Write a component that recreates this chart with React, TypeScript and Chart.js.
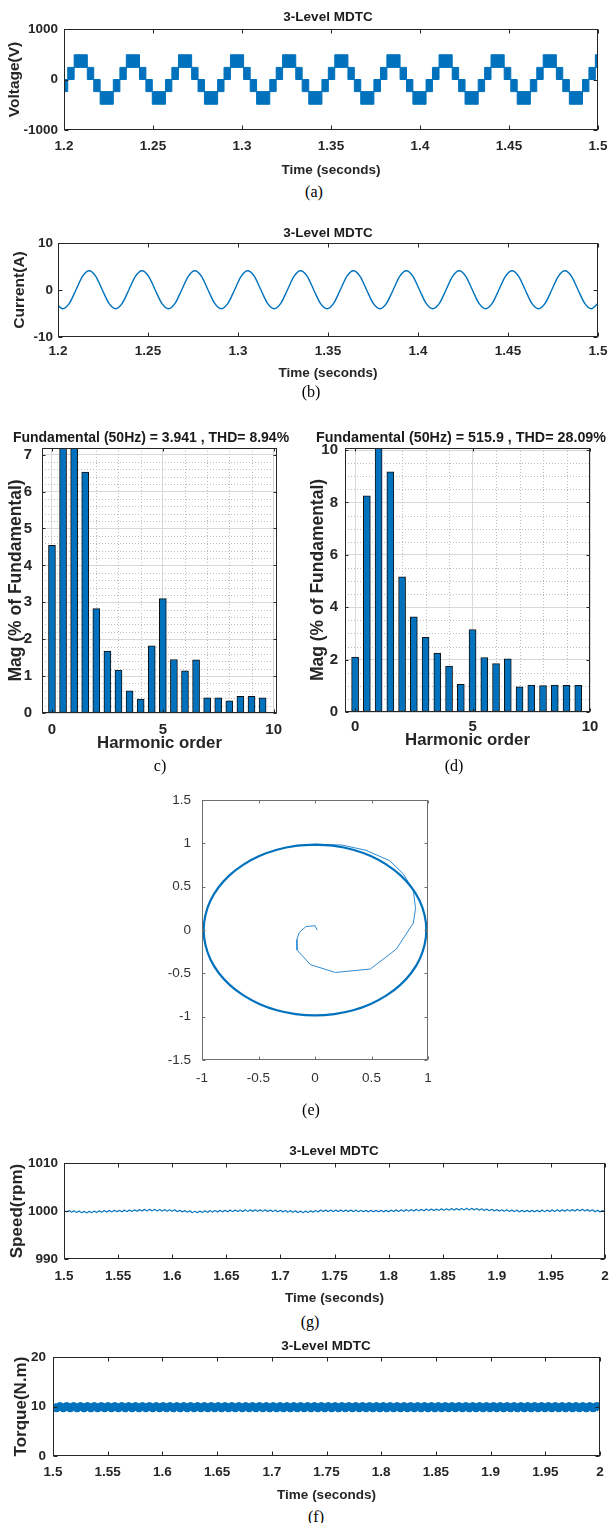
import React, { useEffect, useRef } from 'react';
import { Chart, registerables } from 'chart.js';

Chart.register(...registerables);

const BLUE = '#0072BD';
const SANS = "'Liberation Sans', Arial, Helvetica, sans-serif";
const SERIF = "'Liberation Serif', 'Times New Roman', serif";
const INK = '#262626';

// ---------------- (a) line voltage ----------------
const timeTicksAB = [1.2, 1.25, 1.3, 1.35, 1.4, 1.45, 1.5];
const voltTicks = [-1000, 0, 1000];
const voltTimes = [
  1.1985, 1.2021,
  1.2057, 1.2131, 1.2167, 1.2203, 1.2277, 1.2314,
  1.2350, 1.2424, 1.2460, 1.2496, 1.2570, 1.2606,
  1.2643, 1.2717, 1.2753, 1.2789, 1.2863, 1.2899,
  1.2935, 1.3009, 1.3046, 1.3082, 1.3156, 1.3192,
  1.3228, 1.3302, 1.3338, 1.3375, 1.3449, 1.3485,
  1.3521, 1.3595, 1.3631, 1.3667, 1.3741, 1.3778,
  1.3814, 1.3888, 1.3924, 1.3960, 1.4034, 1.4070,
  1.4107, 1.4181, 1.4217, 1.4253, 1.4327, 1.4363,
  1.4399, 1.4473, 1.4510, 1.4546, 1.4620, 1.4656,
  1.4692, 1.4766, 1.4802, 1.4839, 1.4913, 1.4949,
  1.4985, 1.5,
];
const voltUpper = [
  0, 240,
  490, 240, 0, -240, 0, 240,
  490, 240, 0, -240, 0, 240,
  490, 240, 0, -240, 0, 240,
  490, 240, 0, -240, 0, 240,
  490, 240, 0, -240, 0, 240,
  490, 240, 0, -240, 0, 240,
  490, 240, 0, -240, 0, 240,
  490, 240, 0, -240, 0, 240,
  490, 240, 0, -240, 0, 240,
  490, 240, 0, -240, 0, 240,
  490, 490,
];
const voltLower = [
  -240, 0,
  240, 0, -240, -490, -240, 0,
  240, 0, -240, -490, -240, 0,
  240, 0, -240, -490, -240, 0,
  240, 0, -240, -490, -240, 0,
  240, 0, -240, -490, -240, 0,
  240, 0, -240, -490, -240, 0,
  240, 0, -240, -490, -240, 0,
  240, 0, -240, -490, -240, 0,
  240, 0, -240, -490, -240, 0,
  240, 0, -240, -490, -240, 0,
  240, 240,
];

// ---------------- (b) phase current ----------------
const currentTicks = [-10, 0, 10];
const currentStart = 1.19895;
const currentStep = 0.003671;
const currentVals = [
  -2.85,
  -4.0, -2.85, 0, 2.9, 4.1, 2.9, 0, -2.85,
  -4.0, -2.85, 0, 2.9, 4.1, 2.9, 0, -2.85,
  -4.0, -2.85, 0, 2.9, 4.1, 2.9, 0, -2.85,
  -4.0, -2.85, 0, 2.9, 4.1, 2.9, 0, -2.85,
  -4.0, -2.85, 0, 2.9, 4.1, 2.9, 0, -2.85,
  -4.0, -2.85, 0, 2.9, 4.1, 2.9, 0, -2.85,
  -4.0, -2.85, 0, 2.9, 4.1, 2.9, 0, -2.85,
  -4.0, -2.85, 0, 2.9, 4.1, 2.9, 0, -2.85,
  -4.0, -2.85, 0, 2.9, 4.1, 2.9, 0, -2.85,
  -4.0, -2.85, 0, 2.9, 4.1, 2.9, 0, -2.85,
  -4.0, -2.85,
];

// ---------------- (c),(d) harmonic spectra ----------------
const harmOrder = [0, 0.5, 1, 1.5, 2, 2.5, 3, 3.5, 4, 4.5, 5, 5.5, 6, 6.5, 7, 7.5, 8, 8.5, 9, 9.5];
const harmCurrent = [4.54, 8.6, 9.1, 6.53, 2.83, 1.68, 1.16, 0.6, 0.38, 1.82, 3.1, 1.45, 1.14, 1.44, 0.41, 0.41, 0.33, 0.45, 0.45, 0.41];
const harmVoltage = [2.1, 8.25, 10.3, 9.17, 5.16, 3.63, 2.85, 2.25, 1.75, 1.06, 3.15, 2.08, 1.85, 2.03, 0.96, 1.03, 1.01, 1.03, 1.02, 1.02];
const harmTicksX = [0, 5, 10];
const harmTicksYC = [0, 1, 2, 3, 4, 5, 6, 7];
const harmTicksYD = [0, 2, 4, 6, 8, 10];
const harmMinorX = [1, 2, 3, 4, 6, 7, 8, 9];
const harmMinorYC = [0.2, 0.4, 0.6, 0.8, 1.2, 1.4, 1.6, 1.8, 2.2, 2.4, 2.6, 2.8, 3.2, 3.4, 3.6, 3.8, 4.2, 4.4, 4.6, 4.8, 5.2, 5.4, 5.6, 5.8, 6.2, 6.4, 6.6, 6.8];
const harmMinorYD = [0.5, 1, 1.5, 2.5, 3, 3.5, 4.5, 5, 5.5, 6.5, 7, 7.5, 8.5, 9, 9.5];

// ---------------- (e) stator flux locus ----------------
const fluxTicksX = [-1, -0.5, 0, 0.5, 1];
const fluxTicksY = [-1.5, -1, -0.5, 0, 0.5, 1, 1.5];
const spiralX = [0.02, 0.0, -0.08, -0.14, -0.16, -0.16, -0.04, 0.18, 0.49, 0.72, 0.87, 0.89, 0.87, 0.78, 0.66, 0.45, 0.24, 0.0];
const spiralY = [0.0, 0.05, 0.04, -0.03, -0.11, -0.23, -0.40, -0.49, -0.45, -0.22, 0.08, 0.25, 0.46, 0.65, 0.80, 0.92, 0.98, 0.99];
const circleX = [
  0, -0.171, -0.337, -0.493, -0.633, -0.755, -0.853, -0.926, -0.970,
  -0.985, -0.970, -0.926, -0.853, -0.755, -0.633, -0.493, -0.337, -0.171,
  0, 0.171, 0.337, 0.493, 0.633, 0.755, 0.853, 0.926, 0.970,
  0.985, 0.970, 0.926, 0.853, 0.755, 0.633, 0.493, 0.337, 0.171, 0,
];
const circleY = [
  0.985, 0.970, 0.926, 0.853, 0.755, 0.633, 0.493, 0.337, 0.171,
  0, -0.171, -0.337, -0.493, -0.633, -0.755, -0.853, -0.926, -0.970,
  -0.985, -0.970, -0.926, -0.853, -0.755, -0.633, -0.493, -0.337, -0.171,
  0, 0.171, 0.337, 0.493, 0.633, 0.755, 0.853, 0.926, 0.970, 0.985,
];

// ---------------- (g) rotor speed ----------------
const timeTicksGF = [1.5, 1.55, 1.6, 1.65, 1.7, 1.75, 1.8, 1.85, 1.9, 1.95, 2];
const speedTicks = [990, 1000, 1010];
const speedStart = 1.5;
const speedStep = 0.5 / 215;
const speedVals = [
  1000.15, 999.82, 1000.09, 999.77, 1000.04, 999.71, 999.98, 999.66, 999.93,
  999.60, 999.93, 999.65, 999.98, 999.70, 1000.03, 999.75, 1000.08,
  999.80, 1000.11, 999.82, 1000.13, 999.84, 1000.15, 999.86, 1000.17, 999.89,
  1000.20, 999.92, 1000.24, 999.96, 1000.28, 1000.00, 1000.32, 1000.03,
  1000.35, 1000.04, 1000.33, 1000.02, 1000.31, 999.99, 1000.28, 999.97, 1000.26,
  999.95, 1000.22, 999.88, 1000.15, 999.82, 1000.08, 999.75, 1000.02, 999.68,
  999.95, 999.67, 999.99, 999.71, 1000.03, 999.74, 1000.06, 999.78,
  1000.10, 999.81, 1000.12, 999.83, 1000.14, 999.86, 1000.17, 999.88, 1000.19,
  999.90, 1000.21, 999.91, 1000.22, 999.93, 1000.24, 999.94, 1000.25,
  999.95, 1000.24, 999.93, 1000.22, 999.91, 1000.19, 999.88, 1000.17, 999.86,
  1000.15, 999.83, 1000.10, 999.78, 1000.06, 999.74, 1000.01, 999.69, 999.97,
  999.65, 999.98, 999.71, 1000.04, 999.77, 1000.10, 999.83, 1000.17,
  999.90, 1000.20, 999.90, 1000.20, 999.90, 1000.20, 999.90, 1000.20, 999.90,
  1000.20, 999.89, 1000.19, 999.88, 1000.18, 999.87, 1000.16, 999.86,
  1000.15, 999.85, 1000.15, 999.85, 1000.15, 999.85, 1000.15, 999.85, 1000.15,
  999.85, 1000.18, 999.90, 1000.22, 999.92, 1000.23, 999.95, 1000.27, 999.98,
  1000.30, 1000.01, 1000.33, 1000.04, 1000.35, 1000.06, 1000.38, 1000.09,
  1000.40, 1000.11, 1000.42, 1000.13, 1000.44, 1000.16, 1000.47, 1000.18, 1000.49,
  1000.20, 1000.51, 1000.21, 1000.52, 1000.23, 1000.54, 1000.24, 1000.55,
  1000.25, 1000.52, 1000.19, 1000.47, 1000.14, 1000.41, 1000.08, 1000.36, 1000.03,
  1000.30, 999.98, 1000.26, 999.95, 1000.23, 999.91, 1000.20, 999.88, 1000.17,
  999.85, 1000.15, 999.85, 1000.15, 999.85, 1000.15, 999.85, 1000.15,
  999.85, 1000.17, 999.87, 1000.20, 999.89, 1000.22, 999.92, 1000.24, 999.94,
  1000.25, 999.96, 1000.28, 999.99, 1000.30, 1000.01, 1000.33, 1000.04,
  1000.35, 1000.02, 1000.28, 999.95, 1000.22, 999.89, 1000.15, 999.82, 1000.08, 999.75,
];

// ---------------- (f) electromagnetic torque ----------------
const torqueTicks = [0, 10, 20];
const torqueStart = 1.5;
const torqueStep = 0.5 / 159;
const torqueVals = [
  10.15, 9.6, 10.15, 9.6, 10.15, 9.6, 10.15, 9.6, 10.15, 9.6, 10.15, 9.6, 10.15, 9.6, 10.15, 9.6, 10.15, 9.6, 10.15, 9.6,
  10.15, 9.6, 10.15, 9.6, 10.15, 9.6, 10.15, 9.6, 10.15, 9.6, 10.15, 9.6, 10.15, 9.6, 10.15, 9.6, 10.15, 9.6, 10.15, 9.6,
  10.15, 9.6, 10.15, 9.6, 10.15, 9.6, 10.15, 9.6, 10.15, 9.6, 10.15, 9.6, 10.15, 9.6, 10.15, 9.6, 10.15, 9.6, 10.15, 9.6,
  10.15, 9.6, 10.15, 9.6, 10.15, 9.6, 10.15, 9.6, 10.15, 9.6, 10.15, 9.6, 10.15, 9.6, 10.15, 9.6, 10.15, 9.6, 10.15, 9.6,
  10.15, 9.6, 10.15, 9.6, 10.15, 9.6, 10.15, 9.6, 10.15, 9.6, 10.15, 9.6, 10.15, 9.6, 10.15, 9.6, 10.15, 9.6, 10.15, 9.6,
  10.15, 9.6, 10.15, 9.6, 10.15, 9.6, 10.15, 9.6, 10.15, 9.6, 10.15, 9.6, 10.15, 9.6, 10.15, 9.6, 10.15, 9.6, 10.15, 9.6,
  10.15, 9.6, 10.15, 9.6, 10.15, 9.6, 10.15, 9.6, 10.15, 9.6, 10.15, 9.6, 10.15, 9.6, 10.15, 9.6, 10.15, 9.6, 10.15, 9.6,
  10.15, 9.6, 10.15, 9.6, 10.15, 9.6, 10.15, 9.6, 10.15, 9.6, 10.15, 9.6, 10.15, 9.6, 10.15, 9.6, 10.15, 9.6, 10.15, 9.6,
];

// ---------------- helpers ----------------
const matlabAxes = {
  id: 'matlabAxes',
  beforeDatasetsDraw(chart: any, _a: any, opts: any) {
    const { ctx, chartArea: a, scales } = chart;
    const x = scales.x;
    const y = scales.y;
    ctx.save();
    ctx.strokeStyle = opts.minorColor || '#bdbdbd';
    ctx.lineWidth = 1;
    ctx.setLineDash([1, 2]);
    (opts.minorX || []).forEach((v: number) => {
      const p = Math.round(x.getPixelForValue(v)) + 0.5;
      ctx.beginPath();
      ctx.moveTo(p, a.top);
      ctx.lineTo(p, a.bottom);
      ctx.stroke();
    });
    (opts.minorY || []).forEach((v: number) => {
      const p = Math.round(y.getPixelForValue(v)) + 0.5;
      ctx.beginPath();
      ctx.moveTo(a.left, p);
      ctx.lineTo(a.right, p);
      ctx.stroke();
    });
    ctx.restore();
  },
  afterDatasetsDraw(chart: any, _a: any, opts: any) {
    const { ctx, chartArea: a, scales } = chart;
    const x = scales.x;
    const y = scales.y;
    const L = Math.round(a.left) + 0.5;
    const R = Math.round(a.right) - 0.5;
    const T = Math.round(a.top) + 0.5;
    const B = Math.round(a.bottom) - 0.5;
    const len = opts.tickLen || 4;
    ctx.save();
    ctx.strokeStyle = opts.color || INK;
    ctx.lineWidth = 1;
    ctx.setLineDash([]);
    ctx.strokeRect(L, T, R - L, B - T);
    ctx.beginPath();
    x.ticks.forEach((t: any) => {
      const p = Math.round(x.getPixelForValue(t.value)) + 0.5;
      ctx.moveTo(p, B);
      ctx.lineTo(p, B - len);
      ctx.moveTo(p, T);
      ctx.lineTo(p, T + len);
    });
    y.ticks.forEach((t: any) => {
      const p = Math.round(y.getPixelForValue(t.value)) + 0.5;
      ctx.moveTo(L, p);
      ctx.lineTo(L + len, p);
      ctx.moveTo(R, p);
      ctx.lineTo(R - len, p);
    });
    ctx.stroke();
    ctx.restore();
  },
};

type AxisSpec = {
  min: number;
  max: number;
  ticks: number[];
  size: number;
  pad: number;
  fontSize: number;
  bold?: boolean;
  color?: string;
  title?: string;
  titleSize?: number;
  titlePad?: number;
  grid?: boolean;
};

function makeAxis(kind: 'x' | 'y', s: AxisSpec) {
  const color = s.color || INK;
  return {
    type: 'linear',
    position: kind === 'x' ? 'bottom' : 'left',
    min: s.min,
    max: s.max,
    bounds: 'data',
    offset: false,
    grid: { display: !!s.grid, drawTicks: false, color: '#d9d9d9', lineWidth: 1, offset: false },
    border: { display: false },
    afterBuildTicks: (sc: any) => {
      sc.ticks = s.ticks.map((v) => ({ value: v }));
    },
    afterFit: (sc: any) => {
      if (kind === 'x') sc.height = s.size;
      else sc.width = s.size;
      sc.paddingLeft = 0;
      sc.paddingRight = 0;
      sc.paddingTop = 0;
      sc.paddingBottom = 0;
    },
    ticks: {
      autoSkip: false,
      maxRotation: 0,
      minRotation: 0,
      padding: s.pad,
      color,
      font: { family: SANS, size: s.fontSize, weight: s.bold === false ? 'normal' : 'bold' },
      callback: (v: any) => String(v),
    },
    title: s.title
      ? {
          display: true,
          text: s.title,
          color,
          font: { family: SANS, size: s.titleSize || 13, weight: 'bold' },
          padding: kind === 'x' ? { top: 0, bottom: s.titlePad || 0 } : { top: s.titlePad || 0, bottom: 0 },
        }
      : { display: false },
  };
}

function makeConfig(type: string, datasets: any[], xs: AxisSpec, ys: AxisSpec, padTop: number, padRight: number, axesOpts: any) {
  return {
    type,
    data: { datasets },
    plugins: [matlabAxes],
    options: {
      responsive: false,
      animation: false,
      devicePixelRatio: 1,
      events: [],
      layout: { padding: { top: padTop, right: padRight, left: 0, bottom: 0 } },
      elements: { point: { radius: 0 } },
      plugins: {
        legend: { display: false },
        title: { display: false },
        tooltip: { enabled: false },
        matlabAxes: axesOpts,
      },
      scales: { x: makeAxis('x', xs), y: makeAxis('y', ys) },
    },
  } as any;
}

function ChartPanel(props: { left: number; top: number; width: number; height: number; build: () => any }) {
  const ref = useRef<HTMLCanvasElement | null>(null);
  useEffect(() => {
    const chart = new Chart(ref.current as HTMLCanvasElement, props.build());
    return () => chart.destroy();
  }, []);
  return (
    <canvas
      ref={ref}
      width={props.width}
      height={props.height}
      style={{ position: 'absolute', left: props.left, top: props.top, width: props.width, height: props.height }}
    />
  );
}

function Txt(props: { x: number; y: number; size: number; bold?: boolean; serif?: boolean; children: any }) {
  return (
    <div
      style={{
        position: 'absolute',
        left: props.x,
        top: props.y,
        transform: 'translate(-50%, -50%)',
        whiteSpace: 'nowrap',
        fontFamily: props.serif ? SERIF : SANS,
        fontSize: props.size,
        fontWeight: props.bold ? 700 : 400,
        color: props.serif ? '#000' : '#1a1a1a',
        lineHeight: 1,
      }}
    >
      {props.children}
    </div>
  );
}

// ---------------- chart builders ----------------
const buildVoltage = () =>
  makeConfig(
    'line',
    [
      {
        data: voltTimes.map((t, i) => ({ x: t, y: voltUpper[i] })),
        stepped: true,
        borderColor: BLUE,
        borderWidth: 1,
        fill: false,
        clip: 0,
      },
      {
        data: voltTimes.map((t, i) => ({ x: t, y: voltLower[i] })),
        stepped: true,
        borderColor: BLUE,
        borderWidth: 1,
        backgroundColor: BLUE,
        fill: '-1',
        clip: 0,
      },
    ],
    { min: 1.2, max: 1.5, ticks: timeTicksAB, size: 52, pad: 8, fontSize: 13.5, title: 'Time (seconds)', titleSize: 13.5, titlePad: 4 },
    { min: -1000, max: 1000, ticks: voltTicks, size: 64, pad: 6, fontSize: 13.5, title: 'Voltage(V)', titleSize: 15.5, titlePad: 5 },
    29,
    11,
    { tickLen: 4 }
  );

const buildCurrent = () =>
  makeConfig(
    'line',
    [
      {
        data: currentVals.map((v, k) => ({ x: currentStart + k * currentStep, y: v })),
        cubicInterpolationMode: 'monotone',
        borderColor: BLUE,
        borderWidth: 1.4,
        fill: false,
        clip: 0,
      },
    ],
    { min: 1.2, max: 1.5, ticks: timeTicksAB, size: 48, pad: 6, fontSize: 13.5, title: 'Time (seconds)', titleSize: 13.5, titlePad: 4 },
    { min: -10, max: 10, ticks: currentTicks, size: 58, pad: 5, fontSize: 13.5, title: 'Current(A)', titleSize: 15.5, titlePad: 10.5 },
    23,
    11,
    { tickLen: 4 }
  );

const barDataset = (vals: number[]) => ({
  data: harmOrder.map((o, i) => ({ x: o, y: vals[i] })),
  backgroundColor: BLUE,
  borderColor: '#111111',
  borderWidth: 1,
  borderSkipped: false,
  barThickness: 7,
  clip: 0,
});

const buildHarmC = () =>
  makeConfig(
    'bar',
    [barDataset(harmCurrent)],
    { min: -0.45, max: 10.15, ticks: harmTicksX, size: 47, pad: 8, fontSize: 15, title: 'Harmonic order', titleSize: 16.8, titlePad: 7, grid: true },
    { min: 0, max: 7.18, ticks: harmTicksYC, size: 42, pad: 10, fontSize: 15, title: 'Mag (% of Fundamental)', titleSize: 17.5, titlePad: 6, grid: true },
    23,
    23,
    { tickLen: 3, minorX: harmMinorX, minorY: harmMinorYC }
  );

const buildHarmD = () =>
  makeConfig(
    'bar',
    [barDataset(harmVoltage)],
    { min: -0.43, max: 10, ticks: harmTicksX, size: 48, pad: 6, fontSize: 15, title: 'Harmonic order', titleSize: 16.8, titlePad: 10, grid: true },
    { min: 0, max: 10.08, ticks: harmTicksYD, size: 45, pad: 7, fontSize: 15, title: 'Mag (% of Fundamental)', titleSize: 17.5, titlePad: 7.5, grid: true },
    23,
    19,
    { tickLen: 3, minorX: harmMinorX, minorY: harmMinorYD }
  );

const buildFlux = () =>
  makeConfig(
    'line',
    [
      {
        data: circleX.map((v, i) => ({ x: v, y: circleY[i] })),
        borderColor: BLUE,
        borderWidth: 2.2,
        tension: 0.2,
        fill: false,
      },
      {
        data: spiralX.map((v, i) => ({ x: v, y: spiralY[i] })),
        borderColor: '#2f8bd3',
        borderWidth: 1,
        fill: false,
      },
    ],
    { min: -1, max: 1, ticks: fluxTicksX, size: 30, pad: 10, fontSize: 13.5, bold: false, color: '#333333' },
    { min: -1.5, max: 1.5, ticks: fluxTicksY, size: 52, pad: 11, fontSize: 13.5, bold: false, color: '#333333' },
    10,
    12,
    { tickLen: 3, color: '#6e6e6e' }
  );

const buildSpeed = () =>
  makeConfig(
    'line',
    [
      {
        data: speedVals.map((v, k) => ({ x: speedStart + k * speedStep, y: v })),
        borderColor: BLUE,
        borderWidth: 1.2,
        tension: 0.3,
        fill: false,
        clip: 0,
      },
    ],
    { min: 1.5, max: 2, ticks: timeTicksGF, size: 51, pad: 9, fontSize: 13.5, title: 'Time (seconds)', titleSize: 13.5, titlePad: 4 },
    { min: 990, max: 1010, ticks: speedTicks, size: 64, pad: 6, fontSize: 13.5, title: 'Speed(rpm)', titleSize: 17, titlePad: 7 },
    23,
    4,
    { tickLen: 4 }
  );

const buildTorque = () =>
  makeConfig(
    'line',
    [
      {
        data: torqueVals.map((v, k) => ({ x: torqueStart + k * torqueStep, y: v })),
        borderColor: BLUE,
        borderWidth: 7.5,
        tension: 0.4,
        fill: false,
        clip: 0,
      },
    ],
    { min: 1.5, max: 2, ticks: timeTicksGF, size: 49, pad: 8.5, fontSize: 13.5, title: 'Time (seconds)', titleSize: 13.5, titlePad: 2 },
    { min: 0, max: 20, ticks: torqueTicks, size: 53, pad: 7, fontSize: 13.5, title: 'Torque(N.m)', titleSize: 17, titlePad: 11.5 },
    27,
    9,
    { tickLen: 4 }
  );

export default function App() {
  return (
    <div style={{ position: 'absolute', left: 0, top: 0, width: 609, height: 1523, background: '#ffffff', overflow: 'hidden' }}>
      <ChartPanel left={0} top={0} width={609} height={182} build={buildVoltage} />
      <Txt x={328} y={17} size={13.5} bold>3-Level MDTC</Txt>
      <Txt x={314} y={192} size={16} serif>(a)</Txt>

      <ChartPanel left={0} top={220} width={609} height={165} build={buildCurrent} />
      <Txt x={328} y={233} size={13.5} bold>3-Level MDTC</Txt>
      <Txt x={311} y={392} size={16} serif>(b)</Txt>

      <ChartPanel left={0} top={425} width={300} height={335} build={buildHarmC} />
      <Txt x={151} y={437} size={14} bold>Fundamental (50Hz) = 3.941 , THD= 8.94%</Txt>
      <Txt x={160} y={766} size={16} serif>c)</Txt>

      <ChartPanel left={300} top={425} width={309} height={335} build={buildHarmD} />
      <Txt x={461} y={437} size={14.3} bold>Fundamental (50Hz) = 515.9 , THD= 28.09%</Txt>
      <Txt x={454} y={766} size={16} serif>(d)</Txt>

      <ChartPanel left={150} top={790} width={290} height={300} build={buildFlux} />
      <Txt x={311} y={1110} size={16} serif>(e)</Txt>

      <ChartPanel left={0} top={1140} width={609} height={170} build={buildSpeed} />
      <Txt x={334} y={1151} size={13.5} bold>3-Level MDTC</Txt>
      <Txt x={310} y={1322} size={16} serif>(g)</Txt>

      <ChartPanel left={0} top={1330} width={609} height={175} build={buildTorque} />
      <Txt x={326} y={1346} size={13.5} bold>3-Level MDTC</Txt>
      <Txt x={316} y={1517} size={16} serif>(f)</Txt>
    </div>
  );
}
